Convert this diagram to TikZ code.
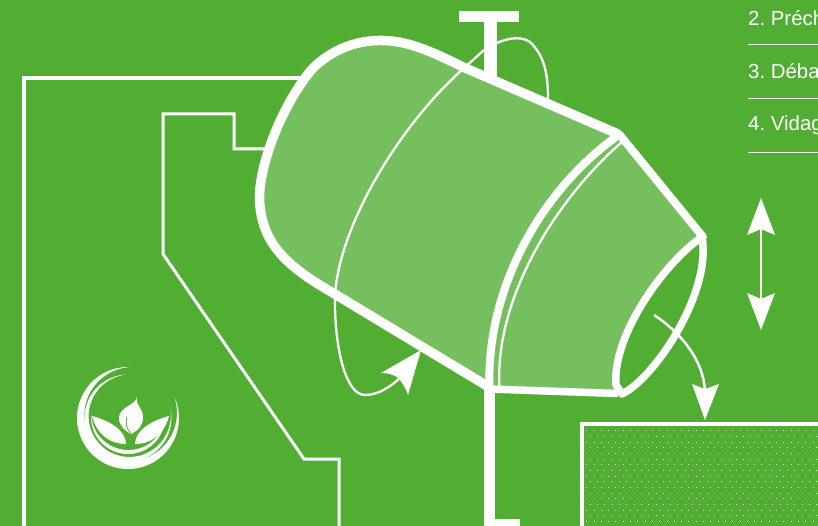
\documentclass[tikz,border=0pt]{standalone}
\usepackage{fontspec}
\setmainfont{Liberation Sans}
\definecolor{bggreen}{HTML}{52AE32}
\definecolor{drumgreen}{HTML}{75BF5F}
\newcommand{\swoosh}[6]{%
  \fill[white] plot[domain=#4:#5,samples=60,smooth] ({#1+#3*cos(\x)},{#2+#3*sin(\x)})
   -- plot[domain=#5:#4,samples=60,smooth] ({#1+(#3-#6*sin((180/((#5)-(#4)))*(\x-(#4))))*cos(\x)},{#2+(#3-#6*sin((180/((#5)-(#4)))*(\x-(#4))))*sin(\x)}) -- cycle;}
\tikzset{
  thick line/.style={draw=white,line width=9.5pt,line join=round},
  plan line/.style={draw=white,line width=3pt,line join=miter},
  thin line/.style={draw=white,line width=2.3pt},
  head/.style={fill=white,draw=none},
  menu/.style={anchor=base west,inner sep=0pt,text=white,font=\fontsize{20.4}{25}\selectfont\frenchspacing},
  rule/.style={draw=white,line width=1pt}
}
\begin{document}
\begin{tikzpicture}[x=1pt,y=-1pt]
\useasboundingbox (0,0) rectangle (818,526);
\clip (0,0) rectangle (818,526);
\fill[bggreen] (0,0) rectangle (818,526);
% plan outlines
\draw[plan line,line width=3.5pt] (305,78) -- (24,78) -- (24,530);
\draw[plan line] (339,530) -- (339,459) -- (304,459) -- (163,254) -- (163,114) -- (234,114) -- (234,149) -- (270,149);
% pole
\fill[white] (459,11) rectangle (519,22);
\fill[white] (484,22) rectangle (497,80);
\fill[white] (484,385) rectangle (495,526);
\fill[white] (495,519) rectangle (520,526);
% rotation curve behind
\draw[thin line] (497,43) .. controls (510,37) and (525,36) .. (532,44) .. controls (545,58) and (548,75) .. (548,100);
\draw[thin line] (463,69) -- (484,50);
% drum
\path[fill=drumgreen] (488,386.5) -- (333,293) .. controls (290,268) and (260,245) .. (259.5,197) .. controls (260,160) and (285,100) .. (313,68) .. controls (335,47) and (360,40) .. (383,40.5) .. controls (405,41) and (425,48) .. (463,67) -- (618,134) -- (703,237) -- (618,392) -- cycle;
\draw[thin line] (463,69) .. controls (405,120) and (340,220) .. (335,295);
\draw[thin line] (335,295) .. controls (334,345) and (345,395) .. (365,395) .. controls (378,395) and (390,387) .. (400,378);
\draw[thin line] (622,142) .. controls (555,200) and (494,300) .. (499.5,388);
\draw[white,line width=8pt] (620,134) .. controls (540,190) and (486,290) .. (489.5,388);
\draw[thick line] (488,386.5) -- (333,293) .. controls (290,268) and (260,245) .. (259.5,197) .. controls (260,160) and (285,100) .. (313,68) .. controls (335,47) and (360,40) .. (383,40.5) .. controls (405,41) and (425,48) .. (463,67) -- (618,134);
\draw[white,line width=8pt,line join=round,line cap=round] (619,134) -- (703,237);
\draw[white,line width=7.5pt] (489,389) -- (618,393.5);
% mouth
\path[fill=bggreen,draw=white,line width=7.5pt,line join=round] (702,237) .. controls (665,262) and (612,335) .. (616,385) -- (622,394) .. controls (655,378) and (712,292) .. (702,237) -- cycle;
% exit arrow
\draw[thin line,line width=2.5pt] (654,315) .. controls (680,332) and (704,360) .. (705,392);
\fill[head] (705,420) -- (692,384) -- (705,389) -- (719,384) -- cycle;
% rotation head
\fill[head] (421,350) -- (381,373) .. controls (390,373) and (396,376) .. (398,378) .. controls (403,383) and (406,389) .. (408,395) -- cycle;
% double arrow
\draw[white,line width=2.2pt] (761,225) -- (761,305);
\fill[head] (761,198) -- (775,235) -- (761,229) -- (747,235) -- cycle;
\fill[head] (761,330) -- (775,293) -- (761,299) -- (747,293) -- cycle;
% hopper
\begin{scope}
\clip (584,426) rectangle (818,526);
\foreach \r in {0,...,17}{
  \pgfmathsetmacro{\yy}{430.7+5.68*\r}
  \pgfmathsetmacro{\xo}{586.7+3.65*mod(\r,2)}
  \foreach \c in {0,...,32}{
    \fill[white,opacity=.85] ({\xo+7.3*\c-0.5},{\yy-0.5}) rectangle ++(1,1);
  }
}
\end{scope}
\draw[white,line width=4pt] (830,424) -- (582,424) -- (582,530);
% menu
\node[menu] (m2) at (748,25.5) {2. Préch};
\node[menu] (m3) at (748,79) {3. Déba};
\node[menu] (m4) at (748,130.5) {4. Vidag};
\draw[rule] (748,45) -- (818,45);
\draw[rule] (748,99) -- (818,99);
\draw[rule] (748,153) -- (818,153);
% logo
\swoosh{128}{418}{51}{-88}{-384}{9}
\swoosh{128}{418}{43.5}{-93}{-372}{5}
\swoosh{128}{417}{37}{-175}{-355}{4}
\fill[white] (137,397) .. controls (136,405) and (119,407) .. (119,418) .. controls (119,426) and (125,431) .. (131,434) .. controls (139,430) and (143,425) .. (143,417) .. controls (143,408) and (135,405) .. (137,397) -- cycle;
\draw[bggreen,line width=.8pt] (127,417) .. controls (125,424) and (127,430) .. (131,433);
\fill[white] (92,416) .. controls (108,420) and (126,430) .. (126,444) .. controls (108,444) and (96,432) .. (92,416) -- cycle;
\fill[white] (169,416) .. controls (153,420) and (135,430) .. (135,444) .. controls (153,444) and (165,432) .. (169,416) -- cycle;
\end{tikzpicture}
\end{document}
